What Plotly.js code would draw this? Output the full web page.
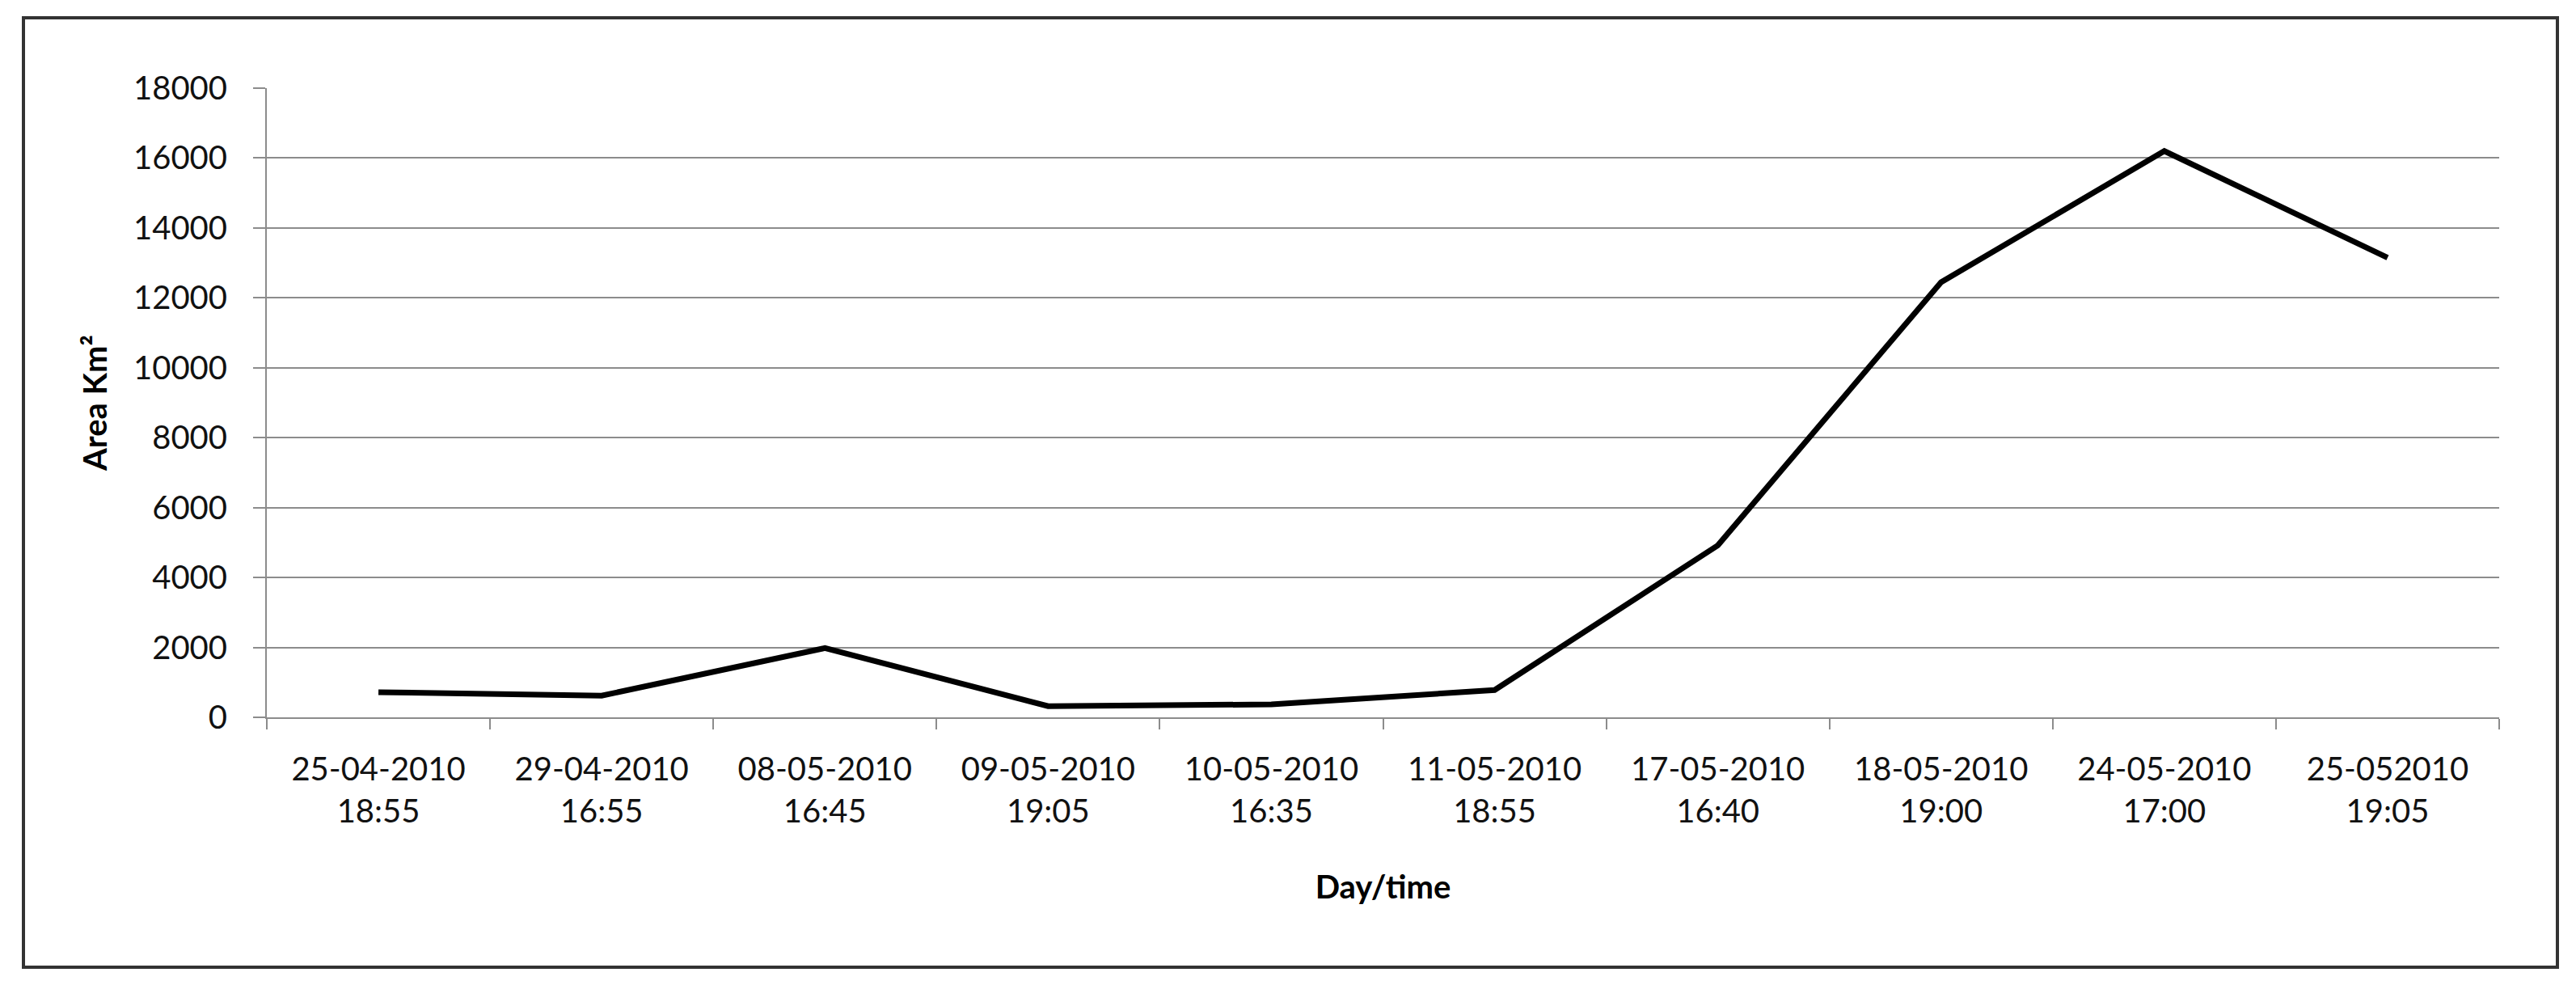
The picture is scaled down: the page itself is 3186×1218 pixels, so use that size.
<!DOCTYPE html>
<html>
<head>
<meta charset="utf-8">
<script src="https://cdn.plot.ly/plotly-3.0.1.min.js"></script>
<style>html,body{margin:0;padding:0;background:#fff;}#chart{width:3186px;height:1218px;}</style>
</head>
<body>
<div id="chart"></div>
<script>
// Data
const categories = [
  "25-04-2010<br>18:55", "29-04-2010<br>16:55", "08-05-2010<br>16:45",
  "09-05-2010<br>19:05", "10-05-2010<br>16:35", "11-05-2010<br>18:55",
  "17-05-2010<br>16:40", "18-05-2010<br>19:00", "24-05-2010<br>17:00",
  "25-052010<br>19:05"
];
const areaKm2 = [720, 620, 1980, 320, 370, 780, 4920, 12450, 16200, 13150];
const yTickValues = [0, 2000, 4000, 6000, 8000, 10000, 12000, 14000, 16000, 18000];
const xTitle = "Day/time";
const yTitle = "Area Km²";

// Layout geometry (pixels)
const W = 3186, H = 1218;
const M = {l: 330, r: 95, t: 109, b: 331};
const plotW = W - M.l - M.r, plotH = H - M.t - M.b;
const frame = {left: 29, right: 3163, top: 22, bottom: 1196};
const px2x = p => (p - M.l) / plotW;
const py2y = p => (H - M.b - p) / plotH;

const FONT = "Lato, 'Open Sans', sans-serif";
const GRID = "#8c8c8c";

const trace = {
  type: "scatter",
  mode: "lines",
  x: categories,
  y: areaKm2,
  line: {color: "#000000", width: 7},
  hoverinfo: "x+y"
};

const layout = {
  width: W, height: H,
  margin: M,
  paper_bgcolor: "#ffffff",
  plot_bgcolor: "#ffffff",
  showlegend: false,
  font: {family: FONT, color: "#111111", size: 40},
  xaxis: {
    type: "category",
    range: [-0.5, categories.length - 0.5],
    showgrid: false,
    zeroline: false,
    showline: true, linecolor: GRID, linewidth: 2,
    ticks: "outside", tickson: "boundaries", ticklen: 13, tickwidth: 2, tickcolor: GRID,
    tickfont: {family: FONT, size: 40, color: "#111111"},
    ticklabelstandoff: 28,
    tickangle: 0,
    title: {text: xTitle, font: {family: FONT, size: 40, color: "#000000", weight: "bold"}, standoff: 58}
  },
  yaxis: {
    range: [0, 18000],
    tickvals: yTickValues,
    ticktext: yTickValues.map(String),
    showgrid: true, gridcolor: GRID, gridwidth: 2,
    zeroline: false,
    showline: true, linecolor: GRID, linewidth: 2,
    ticks: "outside", ticklen: 15, tickwidth: 2, tickcolor: GRID,
    tickfont: {family: FONT, size: 40, color: "#111111"},
    ticklabelstandoff: 24,
    title: {text: yTitle, font: {family: FONT, size: 40, color: "#000000", weight: "bold"}, standoff: 20}
  },
  shapes: [{
    type: "rect", xref: "paper", yref: "paper",
    x0: px2x(frame.left), x1: px2x(frame.right),
    y0: py2y(frame.bottom), y1: py2y(frame.top),
    line: {color: "#333333", width: 4},
    fillcolor: "rgba(0,0,0,0)",
    layer: "below"
  }]
};

Plotly.newPlot("chart", [trace], layout, {displayModeBar: false, staticPlot: true});
</script>
</body>
</html>
